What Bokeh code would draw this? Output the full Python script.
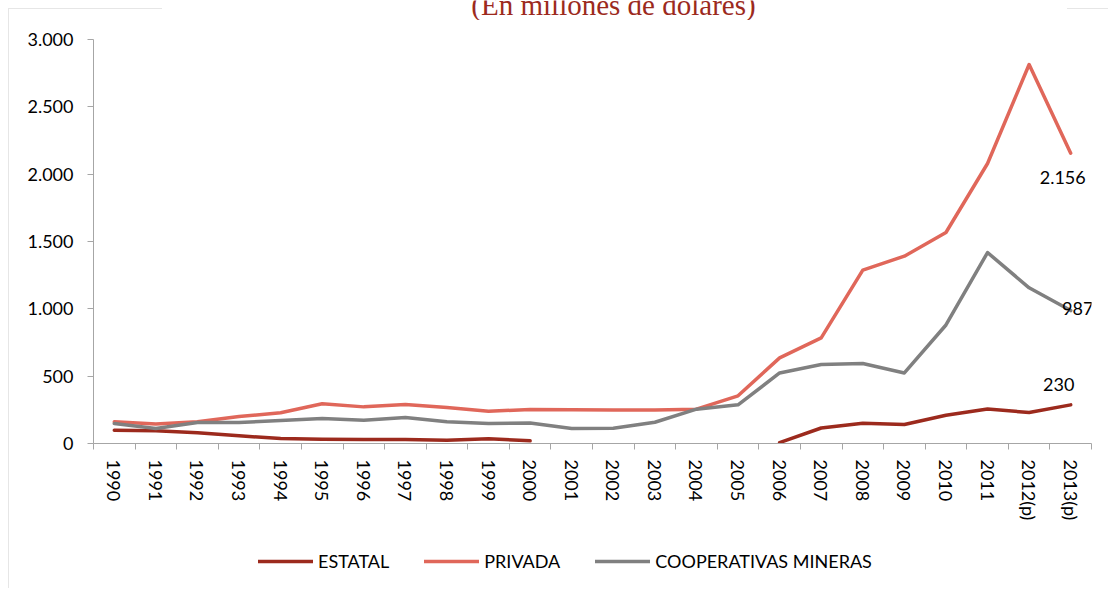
import math
from bokeh.plotting import figure
from bokeh.layouts import column
from bokeh.models import (FactorRange, Range1d, LinearAxis, FixedTicker,
                          CustomJSTickFormatter, Legend, LegendItem, Label)
from bokeh.embed import file_html
from bokeh.resources import INLINE
from bokeh.core.properties import value

nan = float("nan")

# ---------------- data ----------------
years = ["1990", "1991", "1992", "1993", "1994", "1995", "1996", "1997",
         "1998", "1999", "2000", "2001", "2002", "2003", "2004", "2005",
         "2006", "2007", "2008", "2009", "2010", "2011", "2012(p)", "2013(p)"]

estatal = [99, 94, 79, 57, 37, 32, 30, 30, 25, 35, 20,
           nan, nan, nan, nan, nan,
           7, 115, 150, 141, 210, 256, 230, 287]

privada = [161, 144, 161, 200, 228, 295, 272, 290, 267, 240, 252, 250,
           248, 248, 255, 354, 636, 784, 1287, 1391, 1567, 2079, 2814, 2156]

cooperativas = [148, 111, 156, 156, 171, 186, 173, 193, 161, 148, 153, 111,
                114, 158, 255, 287, 524, 586, 594, 524, 880, 1418, 1156, 987]

series_names = ["ESTATAL", "PRIVADA", "COOPERATIVAS MINERAS"]
series_colors = ["#9C2A1D", "#E0675A", "#808080"]

y_ticks = [0, 500, 1000, 1500, 2000, 2500, 3000]
y_tick_labels = ["0", "500", "1.000", "1.500", "2.000", "2.500", "3.000"]

end_labels = ["2.156", "987", "230"]
title_text = "(En millones de dólares)"

AXIS_GRAY = "#A6A6A6"
FONT = "Lato"
BORDER = "#E6E6E6"
LINE_W = 3.5


def strip(height):
    s = figure(width=1108, height=height,
               x_range=Range1d(0, 1), y_range=Range1d(0, 1),
               x_axis_type=None, y_axis_type=None,
               output_backend="svg", toolbar_location=None,
               min_border=0, border_fill_color=None, background_fill_color=None,
               outline_line_color=None)
    s.grid.visible = False
    return s


# ---------------- title strip (title cut off at the top, as in the source) ----------------
ts = strip(20)
ts.add_layout(Label(x=520, y=16, x_units="screen", y_units="screen",
                    text=title_text, text_align="center",
                    text_baseline="alphabetic",
                    text_font="Liberation Serif", text_font_size="29px",
                    text_color="#9C2A1D"))

# ---------------- main chart ----------------
p = figure(width=1108, height=509,
           x_range=FactorRange(factors=years, range_padding=0),
           y_range=Range1d(0, 3000),
           x_axis_type=None, y_axis_type=None,
           output_backend="svg", toolbar_location=None,
           min_border_left=93, min_border_right=17,
           min_border_top=19, min_border_bottom=86,
           border_fill_color=None, background_fill_color=None,
           outline_line_color=None)
p.grid.visible = False

renderers = []
for vals, col in zip([estatal, privada, cooperativas], series_colors):
    r = p.line(years, vals, line_color=col, line_width=LINE_W,
               line_join="round", line_cap="round")
    renderers.append(r)

# end-of-series data labels
p.text(x=[years[-1]] * 3,
       y=[privada[-1], cooperativas[-1], estatal[-1]],
       text=end_labels,
       x_offset=[-8, 7, -12], y_offset=[24, -2, -20],
       text_align="center", text_baseline="middle",
       text_font=value(FONT), text_font_size="18px", text_color="#000000")

n = len(years)
xaxis = LinearAxis(
    ticker=FixedTicker(ticks=[i + 0.5 for i in range(n)],
                       minor_ticks=list(range(n + 1))),
    formatter=CustomJSTickFormatter(args=dict(labels=years),
                                    code="return labels[Math.floor(tick)] || ''"),
    axis_line_color=AXIS_GRAY, axis_line_width=1,
    major_tick_out=0, major_tick_in=0, major_tick_line_color=None,
    minor_tick_out=6, minor_tick_in=0, minor_tick_line_color=AXIS_GRAY,
    major_label_orientation="vertical", major_label_standoff=10,
    major_label_text_font=FONT, major_label_text_font_size="18px",
    major_label_text_color="#000000",
)
p.add_layout(xaxis, "below")

yaxis = LinearAxis(
    ticker=FixedTicker(ticks=y_ticks),
    formatter=CustomJSTickFormatter(args=dict(vals=y_ticks, labels=y_tick_labels),
                                    code="const i = vals.indexOf(tick); return i >= 0 ? labels[i] : ''"),
    axis_line_color=AXIS_GRAY, axis_line_width=1,
    major_tick_out=6, major_tick_in=0, major_tick_line_color=AXIS_GRAY,
    minor_tick_line_color=None,
    major_label_standoff=14,
    major_label_text_font=FONT, major_label_text_font_size="18px",
    major_label_text_color="#000000",
)
p.add_layout(yaxis, "left")

# ---------------- legend strip ----------------
lg = strip(61)
legend_renderers = [lg.line(x=[nan, nan], y=[nan, nan], line_color=c,
                            line_width=LINE_W, line_cap="round")
                    for c in series_colors]
legend = Legend(
    items=[LegendItem(label=nm, renderers=[r]) for nm, r in zip(series_names, legend_renderers)],
    orientation="horizontal", location=(165, 18),
    glyph_width=55, glyph_height=20, label_height=20,
    label_standoff=5, spacing=35, padding=0, margin=0,
    border_line_color=None, background_fill_alpha=0,
    label_text_font=FONT, label_text_font_size="18px",
    label_text_color="#000000",
)
lg.add_layout(legend, "center")

layout = column(ts, p, lg, spacing=0, styles={
    "background": (f"linear-gradient({BORDER},{BORDER}) 8px 8px / 154px 1px no-repeat, "
                   f"linear-gradient({BORDER},{BORDER}) 1067px 8px / 41px 1px no-repeat, "
                   f"linear-gradient({BORDER},{BORDER}) 8px 8px / 1px 580px no-repeat"),
})

open("out.html", "w").write(file_html(layout, INLINE))
